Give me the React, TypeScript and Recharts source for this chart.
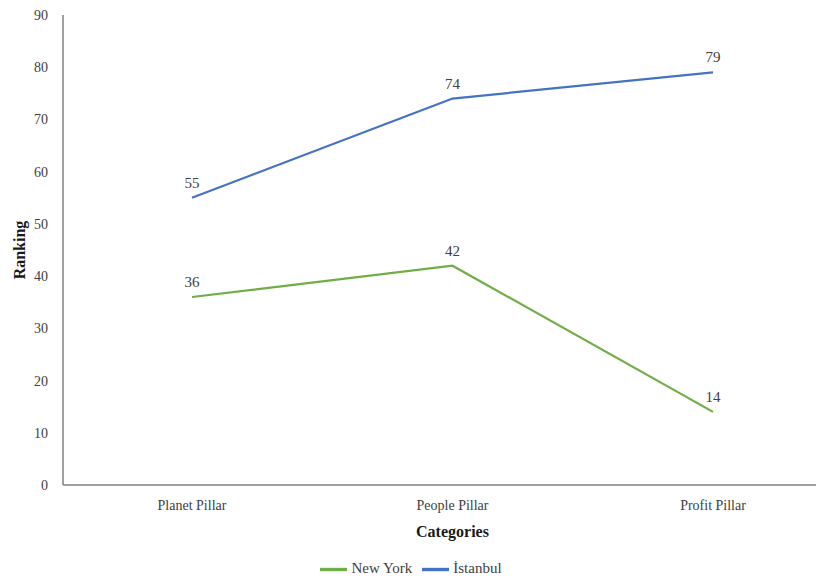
import React from 'react';
import { LineChart, Line, XAxis, YAxis, Legend, LabelList } from 'recharts';

const categories = ['Planet Pillar', 'People Pillar', 'Profit Pillar'];
const newYork = [36, 42, 14];
const istanbul = [55, 74, 79];
const yTicks = [0, 10, 20, 30, 40, 50, 60, 70, 80, 90];

const data = categories.map((c, i) => ({ name: c, ny: newYork[i], ist: istanbul[i] }));

const font = '"Liberation Serif", "Times New Roman", serif';

export default function App() {
  return (
    <div style={{ fontFamily: font }}>
      <LineChart
        width={816}
        height={572}
        data={data}
        margin={{ top: 7, right: 0, left: 0, bottom: 8 }}
        style={{ fontFamily: font }}
      >
        <XAxis
          dataKey="name"
          padding={{ left: 129, right: 111 }}
          tickLine={false}
          tickSize={0}
          tickMargin={15}
          height={60}
          stroke="#7f7f7f"
          strokeWidth={1.5}
          fontFamily={font}
          tick={{ fill: '#404040', fontSize: 14, fontFamily: font }}
          label={{ value: 'Categories', position: 'insideBottom', dx: 9, offset: 8, style: { fill: '#1a1a1a', fontSize: 16, fontWeight: 'bold', fontFamily: font } }}
        />
        <YAxis
          domain={[0, 90]}
          ticks={yTicks}
          interval={0}
          tickLine={false}
          tickSize={0}
          tickMargin={15}
          width={55}
          stroke="#7f7f7f"
          strokeWidth={1.5}
          fontFamily={font}
          tick={{ fill: '#404040', fontSize: 14, fontFamily: font }}
          label={{ value: 'Ranking', angle: -90, position: 'insideLeft', dx: 6, style: { textAnchor: 'middle', fill: '#1a1a1a', fontSize: 16, fontWeight: 'bold', fontFamily: font } }}
        />
        <Legend
          verticalAlign="bottom"
          iconType="plainline"
          iconSize={27}
          wrapperStyle={{ fontSize: 15, fontFamily: font, color: '#404040', bottom: -3 }}
          formatter={(v) => <span style={{ color: '#404040', fontFamily: font }}>{v}</span>}
        />
        <Line
          name="New York"
          dataKey="ny"
          stroke="#70ad47"
          strokeWidth={2.25}
          dot={false}
          isAnimationActive={false}
        >
          <LabelList dataKey="ny" position="top" offset={10} fontFamily={font} style={{ fill: '#404040', fontSize: 15, fontFamily: font }} />
        </Line>
        <Line
          name="İstanbul"
          dataKey="ist"
          stroke="#4472c4"
          strokeWidth={2.25}
          dot={false}
          isAnimationActive={false}
        >
          <LabelList dataKey="ist" position="top" offset={10} fontFamily={font} style={{ fill: '#404040', fontSize: 15, fontFamily: font }} />
        </Line>
      </LineChart>
    </div>
  );
}
